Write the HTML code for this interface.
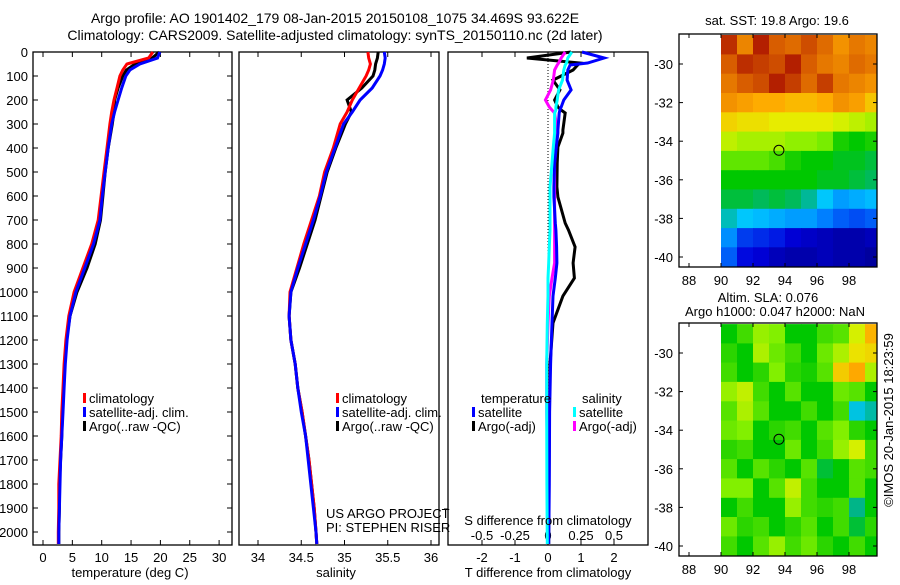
<!DOCTYPE html>
<html><head><meta charset="utf-8"><style>
body{margin:0;background:#fff}
svg text{font-family:"Liberation Sans",sans-serif;font-size:13px;fill:#000}
</style></head><body>
<svg id="fig" width="900" height="580" viewBox="0 0 900 580">
<text x="335" y="23" text-anchor="middle" font-size="14" style="font-size:14px">Argo profile: AO 1901402_179 08-Jan-2015 20150108_1075 34.469S 93.622E</text>
<text x="335" y="40" text-anchor="middle" style="font-size:14px">Climatology: CARS2009. Satellite-adjusted climatology: synTS_20150110.nc (2d later)</text>
<g id="g1"></g>
<g id="g2"></g>
<g id="g3"></g>
<g id="m1"></g>
<g id="m2"></g>
<text x="777" y="25" text-anchor="middle">sat. SST: 19.8 Argo: 19.6</text>
<text x="768" y="302" text-anchor="middle">Altim. SLA: 0.076</text>
<text x="775" y="316" text-anchor="middle">Argo h1000: 0.047 h2000: NaN</text>
<text transform="translate(893,420) rotate(-90)" text-anchor="middle">©IMOS 20-Jan-2015 18:23:59</text>
</svg>
<script>
// ---- profile data ----
const depths=[0,25,50,75,100,150,200,250,300,400,500,600,700,800,900,1000,1100,1200,1300,1400,1500,1600,1700,1800,1900,2000,2050];
const tempClim=[18.7,18.0,14.3,13.6,13.1,12.6,12.1,11.7,11.4,10.9,10.4,9.9,9.4,8.3,6.8,5.3,4.4,3.9,3.6,3.4,3.2,3.1,2.9,2.7,2.7,2.6,2.6];
const tempSat=[19.9,19.5,16.5,14.8,14.1,13.4,12.8,12.2,11.7,11.1,10.6,10.1,9.7,8.6,7.1,5.6,4.6,4.1,3.8,3.6,3.4,3.2,3.0,2.9,2.8,2.7,2.7];
const tempArgo=[19.8,18.6,15.7,14.2,13.6,12.8,12.2,12.1,11.8,11.1,10.6,10.2,9.8,8.9,7.5,5.8,4.6,4.0,3.7,3.5,3.3,3.2,3.0,2.8,2.8,2.7,2.7];
const salClim=[35.27,35.28,35.30,35.28,35.25,35.17,35.09,35.03,34.95,34.87,34.77,34.71,34.62,34.53,34.45,34.37,34.36,34.38,34.43,34.46,34.51,34.55,34.59,34.62,34.65,34.67,34.68];
const salSat=[35.46,35.47,35.46,35.44,35.41,35.32,35.18,35.09,34.99,34.89,34.79,34.72,34.64,34.55,34.46,34.38,34.36,34.38,34.43,34.46,34.50,34.55,34.58,34.61,34.64,34.67,34.68];
const salArgo=[35.39,35.38,35.36,35.35,35.33,35.20,35.03,35.08,35.01,34.90,34.80,34.73,34.66,34.57,34.48,34.38,34.36,34.38,34.43,34.46,34.51,34.55,34.59,34.62,34.65,34.67,34.68];
// ---- difference data ----
const diffDepths=[0,25,46,54,75,117,158,200,229,242,254,325,338,396,463,562,604,713,742,812,879,942,1017,1129,1300,1500,1800,2050];
const dTsat=[1.03,1.7,1.2,0.67,0.6,0.58,0.7,0.48,0.4,0.36,0.34,0.3,0.3,0.25,0.2,0.18,0.18,0.22,0.24,0.26,0.27,0.22,0.15,0.12,0.08,0.05,0.04,0.02];
const dTargo=[0.7,-0.64,0.97,0.9,0.76,0.15,0.36,0.2,0.3,0.4,0.52,0.45,0.45,0.3,0.28,0.27,0.3,0.52,0.62,0.82,0.76,0.8,0.45,0.15,0.06,0.04,0.03,0.02];
const dSsat=[0.18,0.15,0.14,0.13,0.12,0.11,0.08,0.07,0.06,0.06,0.05,0.05,0.05,0.04,0.03,0.015,0.015,0.015,0.015,0.01,0.005,0,0,-0.005,-0.01,-0.01,-0.008,-0.005];
const dSargo=[0.13,0.1,0.08,0.07,0.05,0.04,0.02,-0.02,0.01,0.03,0.05,0.07,0.07,0.06,0.05,0.05,0.05,0.05,0.05,0.05,0.05,0.03,0.01,0,-0.01,-0.01,0,0];
// ---- map data (rows lat -28.5 top → -40.5, cols lon 90..100) ----
const mapLons=[90,91,92,93,94,95,96,97,98,99];
const mapLats=[-28.5,-29.5,-30.5,-31.5,-32.5,-33.5,-34.5,-35.5,-36.5,-37.5,-38.5,-39.5];
const sstGrid=[
[20.9,20.3,21.0,20.6,20.5,20.7,20.5,20.2,20.4,20.3],
[20.6,20.9,20.8,20.7,21.0,20.6,20.4,20.3,20.5,20.4],
[20.4,20.6,20.7,21.0,20.8,20.5,20.8,20.4,20.3,20.2],
[20.2,20.1,20.0,20.0,19.9,19.9,20.0,20.2,20.1,19.8],
[19.7,19.6,19.6,19.5,19.5,19.5,19.5,19.4,19.3,19.2],
[19.3,19.2,19.2,19.2,19.1,19.1,19.0,18.6,18.5,18.6],
[18.9,18.9,18.9,18.8,18.6,18.5,18.5,18.4,18.4,18.3],
[18.5,18.5,18.5,18.5,18.5,18.5,18.4,18.4,18.3,18.2],
[18.3,18.3,18.2,18.3,18.2,18.0,17.7,17.4,17.5,17.6],
[17.9,17.7,17.6,17.5,17.4,17.4,17.2,17.0,16.9,17.0],
[17.3,16.8,16.7,16.6,16.4,16.3,16.2,16.1,16.1,16.2],
[17.0,16.5,16.4,16.2,16.1,16.1,16.2,16.1,16.1,16.0]];
const slaGrid=[
[0.0,0.03,0.07,0.06,0.0,0.0,0.03,0.04,0.10,0.16],
[0.02,0.0,0.08,0.05,0.03,0.0,0.05,0.08,0.12,0.13],
[0.03,0.0,0.02,0.06,0.02,0.01,0.04,0.14,0.17,0.08],
[0.07,0.09,0.03,0.0,0.04,0.0,0.0,0.05,0.04,0.0],
[0.04,0.08,0.04,0.0,0.0,0.03,0.0,0.03,-0.08,-0.06],
[0.05,0.06,0.0,0.02,0.03,0.0,0.04,0.06,0.02,0.0],
[0.02,0.03,0.0,0.0,0.05,0.0,0.03,0.07,0.10,0.03],
[0.04,0.0,0.04,0.02,0.0,0.04,-0.02,0.0,0.04,0.03],
[0.06,0.06,0.0,0.04,0.09,0.03,0.0,0.0,0.04,0.0],
[0.0,0.03,0.0,0.0,0.07,0.03,0.02,0.03,-0.05,0.0],
[0.05,0.02,0.03,0.0,0.02,0.04,0.0,0.03,-0.02,0.02],
[0.03,0.0,0.04,0.07,0.03,0.05,0.02,0.0,0.03,0.0]];
const argoLon=93.62, argoLat=-34.47;

const NS='http://www.w3.org/2000/svg';
function mk(tag,parent,attrs){const e=document.createElementNS(NS,tag);for(const k in attrs)e.setAttribute(k,attrs[k]);parent.appendChild(e);return e;}
function txt(parent,x,y,s,anchor){const t=mk('text',parent,{x:x,y:y,'text-anchor':anchor||'middle'});t.textContent=s;return t;}
const yD=d=>52+d*0.24;
const PT=52,PB=545;

function frame(g,x0,x1){const r=mk('rect',g,{x:x0,y:PT,width:x1-x0,height:PB-PT,fill:'none',stroke:'#000','stroke-width':1.3});
}
function line(g,xs,ds,fx,color,name){
 const pts=xs.map((v,i)=>fx(v).toFixed(1)+','+yD(ds[i]).toFixed(1)).join(' ');
 const p=mk('polyline',g,{points:pts,fill:'none',stroke:color,'stroke-width':3,'stroke-linejoin':'miter'});
 
 
}
function xticks(g,fx,vals,labels,ly){vals.forEach((v,i)=>{const x=fx(v);
 mk('line',g,{x1:x,x2:x,y1:PT,y2:PT+5,stroke:'#000'});mk('line',g,{x1:x,x2:x,y1:PB,y2:PB-5,stroke:'#000'});
 if(labels){const t=txt(g,x,ly,labels[i]);}});}
function legend(g,x,y,items){items.forEach((it,i)=>{mk('rect',g,{x:x,y:y+i*14-10,width:3,height:10,fill:it[0]});
 const t=txt(g,x+6,y+i*14,it[1],'start');});}

// Panel 1
const g1=document.getElementById('g1');
const fT=v=>43+5.87*v;
frame(g1,33,232);
for(let d=0;d<=2000;d+=100){const y=yD(d);mk('line',g1,{x1:33,x2:38,y1:y,y2:y,stroke:'#000'});mk('line',g1,{x1:232,x2:227,y1:y,y2:y,stroke:'#000'});
 const t=txt(g1,28,y+5,String(d),'end');}
const tT=[0,5,10,15,20,25,30];xticks(g1,fT,tT,tT.map(String),562);
line(g1,tempArgo,depths,fT,'#000','temp-argo-line');
line(g1,tempClim,depths,fT,'#f00','temp-climatology-line');
line(g1,tempSat,depths,fT,'#00f','temp-satellite-line');
legend(g1,83,403,[['#f00','climatology'],['#00f','satellite-adj. clim.'],['#000','Argo(..raw -QC)']]);
txt(g1,130,577,'temperature (deg C)');

// Panel 2
const g2=document.getElementById('g2');
const fS=v=>258+86.5*(v-34);
frame(g2,239,439);
const sT=[34,34.5,35,35.5,36];xticks(g2,fS,sT,['34','34.5','35','35.5','36'],562);
line(g2,salArgo,depths,fS,'#000','sal-argo-line');
line(g2,salClim,depths,fS,'#f00','sal-climatology-line');
line(g2,salSat,depths,fS,'#00f','sal-satellite-line');
legend(g2,336,403,[['#f00','climatology'],['#00f','satellite-adj. clim.'],['#000','Argo(..raw -QC)']]);
txt(g2,326,518,'US ARGO PROJECT','start');txt(g2,326,532,'PI: STEPHEN RISER','start');
txt(g2,336,577,'salinity');

// Panel 3
const g3=document.getElementById('g3');
const fDT=v=>548+33*v, fDS=v=>548+132*v;
frame(g3,448,648);
mk('line',g3,{x1:548,x2:548,y1:PT,y2:400,stroke:'#000','stroke-dasharray':'1,2'});
const dT=[-2,-1,0,1,2];xticks(g3,fDT,dT,['-2','-1','0','1','2'],562);
const dS=[-0.5,-0.25,0,0.25,0.5];dS.forEach((v,i)=>{txt(g3,fDS(v),540,['-0.5','-0.25','0','0.25','0.5'][i]);});
mk('line',g3,{x1:448,x2:444,y1:509,y2:509,stroke:'#000'});
line(g3,dTargo,diffDepths,fDT,'#000','t-diff-argo-line');
line(g3,dSargo,diffDepths,fDS,'#f0f','s-diff-argo-line');
line(g3,dTsat,diffDepths,fDT,'#00f','t-diff-satellite-line');
line(g3,dSsat,diffDepths,fDS,'#0ff','s-diff-satellite-line');
txt(g3,481,403,'temperature','start');txt(g3,582,403,'salinity','start');
legend(g3,472,417,[['#00f','satellite'],['#000','Argo(-adj)']]);
legend(g3,573,417,[['#0ff','satellite'],['#f0f','Argo(-adj)']]);
txt(g3,548,525,'S difference from climatology');
txt(g3,548,577,'T difference from climatology');

// Maps
const stops=[[0,[0,0,130]],[0.12,[0,0,220]],[0.25,[0,120,255]],[0.35,[0,200,255]],[0.42,[0,180,130]],[0.5,[0,200,0]],[0.6,[130,240,0]],[0.68,[230,240,0]],[0.78,[255,170,0]],[0.88,[220,100,0]],[1,[160,0,0]]];
function cmap(t){t=Math.max(0,Math.min(1,t));for(let i=1;i<stops.length;i++){if(t<=stops[i][0]){const a=stops[i-1],b=stops[i];const f=(t-a[0])/(b[0]-a[0]);
 return 'rgb('+a[1].map((c,k)=>Math.round(c+(b[1][k]-c)*f)).join(',')+')';}}return 'rgb(160,0,0)';}
function drawMap(id,top,grid,vmin,vmax,xly){
 const g=document.getElementById(id);const bottom=top+233;
 const fx=lon=>689+16*(lon-88), fy=lat=>top+30+19.3*(-30-lat);
 const cp=mk('clipPath',g,{id:'c'+id});mk('rect',cp,{x:679,y:top,width:198,height:233});
 const cells=mk('g',g,{'clip-path':'url(#c'+id+')'});
 grid.forEach((row,r)=>row.forEach((v,c)=>{
  const x=fx(mapLons[c]),y=fy(mapLats[r]);
  const cell=mk('rect',cells,{x:x.toFixed(1),y:y.toFixed(1),width:16.6,height:20,fill:cmap((v-vmin)/(vmax-vmin))});
  
  
 }));
 mk('rect',g,{x:679,y:top,width:198,height:233,fill:'none',stroke:'#000','stroke-width':1.3});
 for(let lon=88;lon<=98;lon+=2){const x=fx(lon);mk('line',g,{x1:x,x2:x,y1:top,y2:top+4,stroke:'#000'});mk('line',g,{x1:x,x2:x,y1:bottom,y2:bottom-4,stroke:'#000'});
  const t=txt(g,x,xly,String(lon));}
 for(let lat=-30;lat>=-40;lat-=2){const y=fy(lat);mk('line',g,{x1:679,x2:683,y1:y,y2:y,stroke:'#000'});mk('line',g,{x1:877,x2:873,y1:y,y2:y,stroke:'#000'});
  const t=txt(g,673,y+5,String(lat),'end');}
 const c=mk('circle',g,{cx:fx(argoLon),cy:fy(argoLat),r:5,fill:'none',stroke:'#000','stroke-width':1});
 
 
}
drawMap('m1',34,sstGrid,15.8,21.2,285);
drawMap('m2',323,slaGrid,-0.3,0.3,574);
</script>
</body></html>
